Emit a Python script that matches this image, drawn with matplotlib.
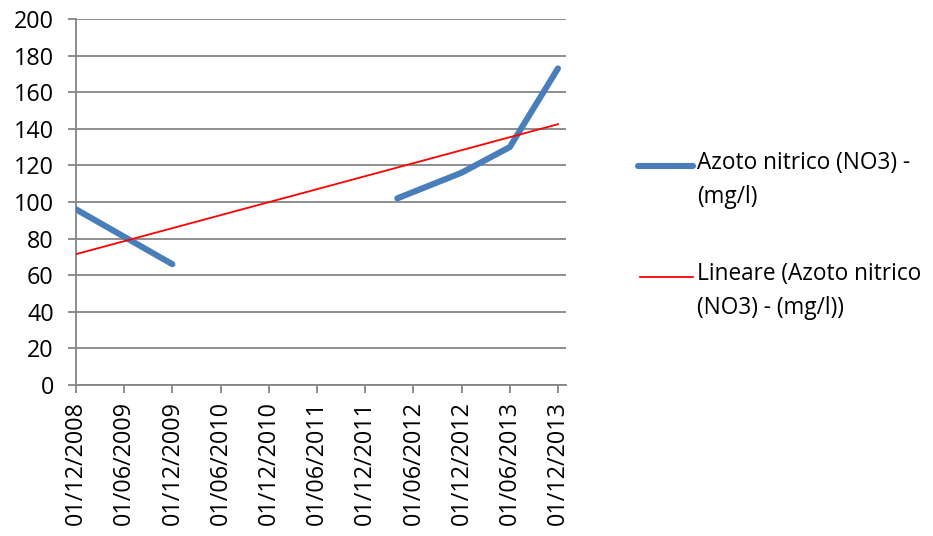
import matplotlib
matplotlib.use("Agg")
import matplotlib.pyplot as plt
from matplotlib.lines import Line2D
import numpy as np

# ---- data ----
dates = ["01/12/2008", "01/12/2009", None, "01/04/2012", "01/12/2012", "01/06/2013", "01/12/2013"]
values = [96, 66, np.nan, 102, 116, 130, 173]
trend_dates = ["01/12/2008", "01/12/2013"]
trend_values = [71.5, 142.5]
tick_labels = ["01/12/2008", "01/06/2009", "01/12/2009", "01/06/2010", "01/12/2010",
               "01/06/2011", "01/12/2011", "01/06/2012", "01/12/2012", "01/06/2013", "01/12/2013"]
series_label = "Azoto nitrico (NO3) -\n(mg/l)"
trend_label = "Lineare (Azoto nitrico\n(NO3) - (mg/l))"

def months(d):
    if d is None:
        return np.nan
    dd, mm, yy = (int(p) for p in d.split("/"))
    return (yy - 2008) * 12 + (mm - 12)

plt.rcParams['font.family'] = ['Open Sans', 'DejaVu Sans']
FS = 16.3
TFS = 16.8
GRAY = "#868686"

fig = plt.figure(figsize=(9.33, 5.36), dpi=100)
W, H = 933, 536
ax = fig.add_axes([76 / W, 1 - 385 / H, (566 - 76) / W, (385 - 19) / H])

x = [months(d) for d in dates]
ax.plot(x, values, color="#4a7ebb", lw=4.4, solid_capstyle="round", solid_joinstyle="round", zorder=3)
ax.plot([months(d) for d in trend_dates], trend_values, color="#ff0000", lw=1.3, zorder=4)

ax.set_xlim(0, 61)
ax.set_ylim(0, 200)
ax.set_yticks(np.arange(0, 201, 20))
ax.set_xticks([months(t) for t in tick_labels])
ax.set_xticklabels(tick_labels, rotation=90, fontsize=TFS)
ax.tick_params(axis="y", labelsize=TFS, length=6, width=1.3, color=GRAY, pad=10)
ax.tick_params(axis="x", length=5.5, width=1.3, color=GRAY, pad=6)
ax.yaxis.grid(True, color=GRAY, lw=1.3)
ax.set_axisbelow(True)
for s in ["top", "right"]:
    ax.spines[s].set_visible(False)
for s in ["left", "bottom"]:
    ax.spines[s].set_color(GRAY)
    ax.spines[s].set_linewidth(1.3)

# legend (manual, Excel style)
fig.add_artist(Line2D([638 / W, 693 / W], [1 - 166 / H, 1 - 166 / H], color="#4a7ebb", lw=4.4,
                      solid_capstyle="round", transform=fig.transFigure))
fig.text(697 / W, 1 - 151 / H, series_label, fontsize=FS, va="top", ha="left",
         linespacing=1.55, transform=fig.transFigure)
fig.add_artist(Line2D([640 / W, 693 / W], [1 - 277 / H, 1 - 277 / H], color="#ff0000", lw=1.3,
                      transform=fig.transFigure))
fig.text(697 / W, 1 - 262 / H, trend_label, fontsize=FS, va="top", ha="left",
         linespacing=1.55, transform=fig.transFigure)

fig.savefig("out.png", dpi=100)
